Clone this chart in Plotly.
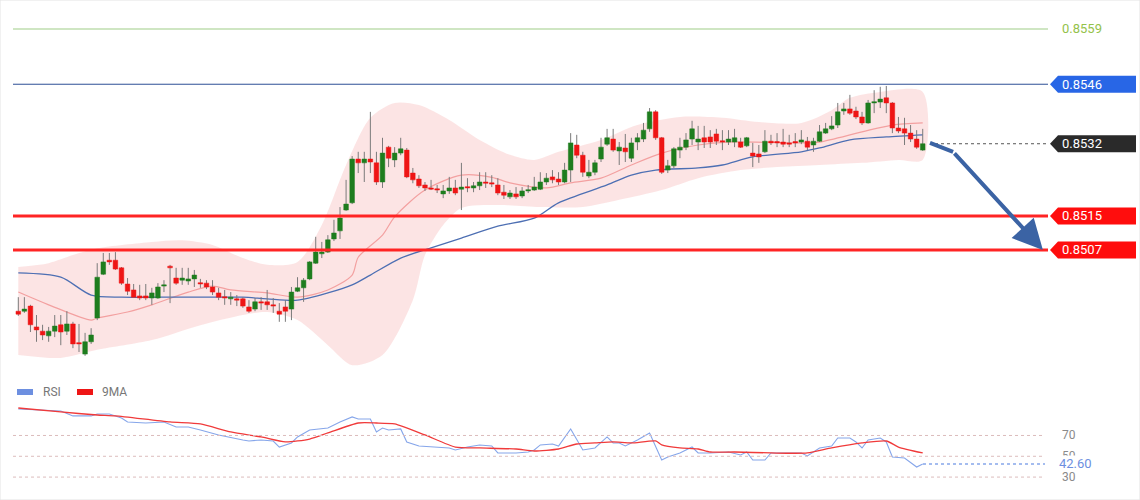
import plotly.graph_objects as go

# ---------------- data ----------------
opens = [0.84926,0.84926,0.84938,0.84889,0.84879,0.84868,0.84879,0.84894,0.84879,0.84896,
0.84851,0.84825,0.84854,0.84910,0.85013,0.85046,0.85046,0.85028,0.84990,0.84976,
0.84962,0.84962,0.84957,0.84957,0.84985,0.85032,0.85004,0.84999,0.84997,0.85002,
0.84992,0.84992,0.84983,0.84969,0.84959,0.84955,0.84955,0.84955,0.84936,0.84931,
0.84948,0.84948,0.84941,0.84926,0.84936,0.84931,0.84973,0.84981,0.85002,0.85039,
0.85061,0.85065,0.85096,0.85115,0.85164,0.85181,0.85284,0.85275,0.85284,0.85275,
0.85230,0.85312,0.85282,0.85298,0.85305,0.85251,0.85237,0.85223,0.85216,0.85213,
0.85202,0.85209,0.85216,0.85213,0.85218,0.85216,0.85221,0.85230,0.85227,0.85223,
0.85206,0.85195,0.85202,0.85197,0.85209,0.85211,0.85213,0.85230,0.85242,0.85237,
0.85230,0.85258,0.85317,0.85293,0.85244,0.85253,0.85284,0.85319,0.85331,0.85303,
0.85310,0.85286,0.85324,0.85331,0.85355,0.85395,0.85334,0.85258,0.85268,0.85305,
0.85312,0.85331,0.85324,0.85334,0.85336,0.85343,0.85326,0.85324,0.85324,0.85324,
0.85315,0.85298,0.85296,0.85301,0.85326,0.85324,0.85324,0.85322,0.85324,0.85324,
0.85326,0.85317,0.85326,0.85345,0.85355,0.85364,0.85397,0.85402,0.85397,0.85383,
0.85369,0.85416,0.85418,0.85428,0.85416,0.85357,0.85355,0.85345,0.85331,0.85305]

highs = [0.84959,0.84959,0.84941,0.84917,0.84894,0.84889,0.84917,0.84917,0.84926,0.84901,
0.84896,0.84875,0.84886,0.85039,0.85063,0.85063,0.85065,0.85030,0.85004,0.84990,
0.84988,0.84990,0.84981,0.84992,0.84999,0.85035,0.85028,0.85028,0.85028,0.85023,
0.85002,0.84999,0.84999,0.84981,0.84976,0.84971,0.84964,0.84959,0.84952,0.84957,
0.84959,0.84976,0.84957,0.84945,0.84952,0.84983,0.85006,0.85004,0.85044,0.85101,
0.85089,0.85105,0.85141,0.85171,0.85235,0.85291,0.85301,0.85301,0.85395,0.85301,
0.85334,0.85315,0.85312,0.85334,0.85310,0.85263,0.85246,0.85230,0.85235,0.85223,
0.85223,0.85242,0.85235,0.85275,0.85239,0.85230,0.85253,0.85253,0.85246,0.85239,
0.85223,0.85211,0.85218,0.85218,0.85223,0.85242,0.85253,0.85251,0.85258,0.85253,
0.85275,0.85345,0.85341,0.85301,0.85282,0.85282,0.85334,0.85355,0.85355,0.85324,
0.85343,0.85334,0.85345,0.85369,0.85404,0.85399,0.85336,0.85282,0.85312,0.85334,
0.85345,0.85374,0.85362,0.85362,0.85352,0.85355,0.85352,0.85352,0.85355,0.85334,
0.85336,0.85322,0.85317,0.85352,0.85341,0.85345,0.85355,0.85341,0.85345,0.85352,
0.85336,0.85334,0.85364,0.85369,0.85385,0.85416,0.85416,0.85435,0.85407,0.85395,
0.85423,0.85446,0.85454,0.85456,0.85418,0.85383,0.85381,0.85364,0.85352,0.85355]

lows = [0.84915,0.84922,0.84877,0.84854,0.84858,0.84854,0.84865,0.84846,0.84870,0.84839,
0.84830,0.84821,0.84849,0.84905,0.85011,0.85035,0.85023,0.84988,0.84964,0.84957,
0.84952,0.84952,0.84941,0.84955,0.84971,0.84945,0.84988,0.84988,0.84988,0.84983,
0.84981,0.84978,0.84964,0.84952,0.84941,0.84941,0.84938,0.84934,0.84922,0.84926,
0.84929,0.84929,0.84922,0.84901,0.84901,0.84905,0.84971,0.84948,0.84999,0.85037,
0.85051,0.85063,0.85091,0.85096,0.85162,0.85178,0.85251,0.85230,0.85251,0.85223,
0.85216,0.85265,0.85265,0.85293,0.85239,0.85227,0.85216,0.85209,0.85211,0.85204,
0.85192,0.85202,0.85199,0.85164,0.85206,0.85206,0.85211,0.85216,0.85218,0.85199,
0.85190,0.85190,0.85190,0.85192,0.85204,0.85209,0.85211,0.85223,0.85227,0.85223,
0.85227,0.85230,0.85286,0.85242,0.85239,0.85246,0.85277,0.85315,0.85301,0.85270,
0.85277,0.85277,0.85305,0.85324,0.85348,0.85329,0.85249,0.85251,0.85263,0.85286,
0.85305,0.85317,0.85305,0.85310,0.85310,0.85317,0.85305,0.85317,0.85312,0.85310,
0.85312,0.85265,0.85275,0.85298,0.85317,0.85312,0.85312,0.85312,0.85312,0.85319,
0.85305,0.85301,0.85324,0.85343,0.85352,0.85357,0.85388,0.85388,0.85378,0.85364,
0.85367,0.85392,0.85404,0.85392,0.85345,0.85345,0.85317,0.85324,0.85308,0.85303]

closes = [0.84919,0.84931,0.84894,0.84882,0.84870,0.84879,0.84891,0.84877,0.84896,0.84849,
0.84849,0.84854,0.84870,0.85006,0.85042,0.85042,0.85025,0.84992,0.84973,0.84959,
0.84957,0.84957,0.84969,0.84983,0.84988,0.85028,0.84992,0.85004,0.85002,0.85011,
0.84990,0.84983,0.84971,0.84959,0.84957,0.84959,0.84952,0.84938,0.84926,0.84948,
0.84945,0.84941,0.84938,0.84919,0.84926,0.84971,0.84981,0.84999,0.85042,0.85065,
0.85065,0.85094,0.85110,0.85145,0.85178,0.85284,0.85275,0.85284,0.85277,0.85230,
0.85298,0.85286,0.85298,0.85308,0.85242,0.85235,0.85221,0.85216,0.85213,0.85211,
0.85209,0.85216,0.85204,0.85218,0.85216,0.85221,0.85230,0.85227,0.85225,0.85204,
0.85199,0.85204,0.85195,0.85209,0.85211,0.85218,0.85230,0.85239,0.85235,0.85230,
0.85258,0.85322,0.85293,0.85253,0.85253,0.85275,0.85312,0.85334,0.85305,0.85312,
0.85301,0.85322,0.85334,0.85352,0.85395,0.85334,0.85253,0.85268,0.85308,0.85312,
0.85329,0.85355,0.85331,0.85324,0.85324,0.85326,0.85324,0.85331,0.85334,0.85312,
0.85334,0.85291,0.85289,0.85326,0.85322,0.85322,0.85319,0.85319,0.85322,0.85329,
0.85312,0.85326,0.85348,0.85355,0.85362,0.85395,0.85402,0.85392,0.85383,0.85369,
0.85416,0.85418,0.85425,0.85416,0.85357,0.85350,0.85345,0.85331,0.85312,0.85320]

# Bollinger envelope (sampled at candle indices)
bb_up_idx = [0,5,9,13,22,27,32,37,41,46,50,54,58,62,66,71,76,81,85,89,96,102,109,116,122,129,134,137,142,149]
bb_upper  = [0.85030,0.85039,0.85058,0.85074,0.85089,0.85093,0.85082,0.85051,0.85035,0.85042,
             0.85129,0.85270,0.85381,0.85416,0.85411,0.85376,0.85329,0.85294,0.85282,0.85301,
             0.85329,0.85364,0.85383,0.85381,0.85371,0.85369,0.85399,0.85428,0.85442,0.85442]
bb_lo_idx = [0,7,13,22,30,37,41,46,51,55,60,65,67,70,73,79,86,93,99,106,112,119,125,132,139,145,149]
bb_lower  = [0.84823,0.84816,0.84835,0.84858,0.84893,0.84917,0.84924,0.84905,0.84846,0.84799,
             0.84823,0.84952,0.85058,0.85129,0.85169,0.85176,0.85171,0.85171,0.85188,0.85211,
             0.85239,0.85258,0.85265,0.85270,0.85275,0.85282,0.85282]

# middle band (20 MA) and long MA
mid_idx = [0,5,12,13,18,22,28,32,35,41,46,51,55,56,60,62,67,73,78,81,87,91,96,101,106,112,117,129,132,139,144,149]
mid_ma  = [0.84971,0.84941,0.84905,0.84910,0.84924,0.84941,0.84971,0.84985,0.84976,0.84969,
           0.84959,0.84976,0.85011,0.85053,0.85105,0.85148,0.85211,0.85246,0.85241,0.85228,
           0.85216,0.85228,0.85239,0.85270,0.85298,0.85317,0.85324,0.85322,0.85324,0.85348,
           0.85364,0.85369]
long_idx = [0,7,12,17,23,30,37,41,46,51,55,58,63,68,73,79,85,89,97,101,105,112,116,121,129,132,137,143,149]
long_ma  = [0.85016,0.85006,0.84964,0.84959,0.84959,0.84959,0.84959,0.84955,0.84952,0.84969,
            0.84988,0.85011,0.85051,0.85075,0.85098,0.85126,0.85145,0.85181,0.85223,0.85246,
            0.85258,0.85263,0.85270,0.85289,0.85301,0.85310,0.85329,0.85336,0.85341]

# RSI and its 9-period MA (sampled at candle indices)
rsi_idx = [0,4,7,9,12,13,15,17,18,21,24,26,28,30,33,37,38,40,42,43,45,46,48,51,53,55,56,58,59,60,
           61,63,64,66,71,72,74,76,78,79,82,84,85,86,88,89,91,93,95,97,98,99,100,102,104,106,107,109,
           111,112,114,117,119,120,121,123,124,127,129,130,132,134,135,137,138,139,140,142,143,144,146,148,149]
rsi_vals = [95.5,94.5,93.6,88.8,88.8,90.7,90.7,86.8,83.0,82.0,83.0,78.2,78.2,75.3,70.5,65.7,64.7,65.7,64.7,58.9,
            62.8,68.6,75.3,77.2,83.0,87.8,85.9,85.9,73.4,77.2,75.3,76.3,63.8,59.9,58.0,56.1,58.9,60.9,59.9,53.2,
            53.2,54.1,56.1,60.9,61.8,59.9,76.3,56.1,58.0,68.6,62.8,62.8,59.9,65.7,72.4,46.4,49.3,53.2,
            58.9,53.2,53.2,54.1,51.3,54.1,46.4,46.4,53.2,53.2,53.2,50.3,58.0,59.9,67.6,67.6,63.8,58.0,65.7,67.6,
            63.8,49.3,48.4,39.7,42.6]
rsi_ma_idx = [0,7,13,16,25,30,35,40,44,48,51,56,59,62,67,72,76,82,85,89,92,95,98,101,105,106,109,112,114,118,
              124,130,134,139,143,145,149]
rsi_ma = [96.4,92.6,89.7,88.8,83.0,81.1,73.4,68.6,63.8,66.6,72.4,82.0,82.0,81.1,70.5,58.9,58.0,57.0,55.1,57.0,
          61.8,62.8,63.8,62.8,64.7,60.9,58.0,57.0,54.1,54.1,53.2,53.2,58.0,62.8,64.7,58.9,53.2]

level_support = [0.8515, 0.8507]
level_resist = 0.8546
level_top = 0.8559
last_price = 0.8532
rsi_levels = [70, 50, 30]
rsi_last = 42.60
target_path_idx = [150.2, 154.0, 168.8]
target_path_val = [0.85322, 0.85301, 0.85070]

# ---------------- styling / geometry ----------------
W, H = 1140, 500
X0_PX, STEP_PX = 18.3, 6.07
xr = [(0 - X0_PX) / STEP_PX, (W - X0_PX) / STEP_PX]
PX_PRICE = 0.000023529   # price per pixel
main_range = [0.856582 - 380 * PX_PRICE, 0.856582]
rsi_range = [7.98, 104.1]

def xp(px):
    return px / W

GREEN = "#1e7d1e"
RED = "#ee1515"
WICK = "#7a7a7a"
BODY_HALF = 0.38
MIN_BODY = 0.00003

fig = go.Figure()

# Bollinger fill
fig.add_trace(go.Scatter(
    x=bb_up_idx + bb_lo_idx[::-1], y=bb_upper + bb_lower[::-1],
    fill="toself", fillcolor="rgba(250,205,205,0.55)", mode="lines",
    line=dict(width=0, shape="spline", smoothing=0.8), hoverinfo="skip",
    xaxis="x", yaxis="y"))
fig.add_trace(go.Scatter(x=mid_idx, y=mid_ma, mode="lines",
    line=dict(color="#f3a0a0", width=1.2, shape="spline", smoothing=0.8), xaxis="x", yaxis="y"))
fig.add_trace(go.Scatter(x=long_idx, y=long_ma, mode="lines",
    line=dict(color="#4d6fb3", width=1.3, shape="spline", smoothing=0.8), xaxis="x", yaxis="y"))

# wicks
wx, wy = [], []
for i in range(len(opens)):
    wx += [i, i, None]
    wy += [lows[i], highs[i], None]
fig.add_trace(go.Scatter(x=wx, y=wy, mode="lines", line=dict(color=WICK, width=1),
                         xaxis="x", yaxis="y", hoverinfo="skip"))

# bodies as filled polygons (scatter layer, so they sit above the band fill)
bodies = {GREEN: ([], []), RED: ([], [])}
for i, (o, c) in enumerate(zip(opens, closes)):
    col = GREEN if c > o else RED
    lo = min(o, c)
    hi = max(max(o, c), lo + MIN_BODY)
    bx, by = bodies[col]
    bx += [i - BODY_HALF, i + BODY_HALF, i + BODY_HALF, i - BODY_HALF, i - BODY_HALF, None]
    by += [lo, lo, hi, hi, lo, None]
for col, (bx, by) in bodies.items():
    fig.add_trace(go.Scatter(x=bx, y=by, mode="lines", fill="toself", fillcolor=col,
                             line=dict(color=col, width=0.5), xaxis="x", yaxis="y", hoverinfo="skip"))

# RSI
fig.add_trace(go.Scatter(x=rsi_idx, y=rsi_vals, mode="lines",
    line=dict(color="#86a6ea", width=1.1), xaxis="x2", yaxis="y2"))
fig.add_trace(go.Scatter(x=rsi_ma_idx, y=rsi_ma, mode="lines",
    line=dict(color="#f03a3a", width=1.3, shape="spline", smoothing=0.6), xaxis="x2", yaxis="y2"))

shapes = []
annotations = []

# frame
shapes.append(dict(type="rect", xref="paper", yref="paper", x0=0, x1=1, y0=0, y1=1,
                   line=dict(color="#e3e3e3", width=1)))

LX0, LX1 = xp(13), xp(1048)
shapes.append(dict(type="line", xref="paper", yref="y", x0=LX0, x1=LX1, y0=level_top, y1=level_top,
                   line=dict(color="#cfe6c3", width=2)))
shapes.append(dict(type="line", xref="paper", yref="y", x0=LX0, x1=LX1, y0=level_resist, y1=level_resist,
                   line=dict(color="#2d4f96", width=1)))
for lv in level_support:
    shapes.append(dict(type="line", xref="paper", yref="y", x0=LX0, x1=LX1, y0=lv, y1=lv,
                       line=dict(color="#ff2424", width=3)))
shapes.append(dict(type="line", xref="paper", yref="y", x0=xp(935), x1=LX1, y0=last_price, y1=last_price,
                   line=dict(color="#555555", width=1, dash="dot")))

# label boxes
half = 8.5 * PX_PRICE
bx0, bx1, bx2 = xp(1050), xp(1058), xp(1136)
def tag(level, color):
    path = (f"M {bx0},{level} L {bx1},{level + half} L {bx2},{level + half} "
            f"L {bx2},{level - half} L {bx1},{level - half} Z")
    shapes.append(dict(type="path", xref="paper", yref="y", path=path,
                       fillcolor=color, line=dict(width=0)))

tag(level_resist, "#2866e6")
tag(last_price, "#2a2a2a")
for lv in level_support:
    tag(lv, "#ff0d0d")

FONT = "Roboto, Arial, sans-serif"
def label(level, text, color, yref="y"):
    annotations.append(dict(x=xp(1060), y=level, xref="paper", yref=yref, text=text,
                            showarrow=False, xanchor="left", yanchor="middle",
                            font=dict(family=FONT, size=13, color=color)))

label(level_top, f"{level_top:.4f}", "#94c24a")
label(level_resist, f"{level_resist:.4f}", "white")
label(last_price, f"{last_price:.4f}", "white")
for lv in level_support:
    label(lv, f"{lv:.4f}", "white")

# blue projection arrow
shapes.append(dict(type="line", xref="x", yref="y",
                   x0=target_path_idx[0], y0=target_path_val[0],
                   x1=target_path_idx[1], y1=target_path_val[1],
                   line=dict(color="#3b63a4", width=4)))
annotations.append(dict(x=target_path_idx[2], y=target_path_val[2], xref="x", yref="y",
                        ax=target_path_idx[1], ay=target_path_val[1], axref="x", ayref="y",
                        text="", showarrow=True, arrowhead=2, arrowsize=1.5, arrowwidth=4,
                        arrowcolor="#3b63a4"))

# RSI guides
for lv in rsi_levels:
    shapes.append(dict(type="line", xref="paper", yref="y2", x0=LX0, x1=xp(1045), y0=lv, y1=lv,
                       line=dict(color="#dcbcbc", width=1, dash="dot")))
shapes.append(dict(type="line", xref="paper", yref="y2", x0=xp(923), x1=xp(1045), y0=rsi_last, y1=rsi_last,
                   line=dict(color="#86a6ea", width=1.5, dash="dot")))
for lv in rsi_levels:
    annotations.append(dict(x=xp(1060), y=lv, xref="paper", yref="y2", text=str(lv), showarrow=False,
                            xanchor="left", yanchor="middle",
                            font=dict(family=FONT, size=12, color="#8a8a8a")))
annotations.append(dict(x=xp(1058), y=rsi_last, xref="paper", yref="y2", text=f"{rsi_last:.2f}",
                        showarrow=False, xanchor="left", yanchor="middle", bgcolor="white",
                        borderpad=0, font=dict(family=FONT, size=13, color="#6d8fe0")))

# RSI legend
LEG_Y = 1 - 392 / H
for x_a, x_b, c, t, tx in [(17, 33, "#6d8fe0", "RSI", 41), (77, 93, "#ee1515", "9MA", 100)]:
    shapes.append(dict(type="rect", xref="paper", yref="paper", x0=xp(x_a), x1=xp(x_b),
                       y0=LEG_Y - 3 / H, y1=LEG_Y + 3 / H, fillcolor=c, line=dict(width=0)))
    annotations.append(dict(x=xp(tx), y=LEG_Y, xref="paper", yref="paper", text=t, showarrow=False,
                            xanchor="left", yanchor="middle",
                            font=dict(family=FONT, size=12, color="#777777")))

fig.update_layout(
    width=W, height=H, margin=dict(l=0, r=0, t=0, b=0),
    paper_bgcolor="white", plot_bgcolor="white", showlegend=False,
    xaxis=dict(domain=[0, 1], range=xr, visible=False, anchor="y"),
    yaxis=dict(domain=[0.24, 1], range=main_range, visible=False, anchor="x"),
    xaxis2=dict(domain=[0, 1], range=xr, visible=False, anchor="y2"),
    yaxis2=dict(domain=[0, 0.2], range=rsi_range, visible=False, anchor="x2"),
    shapes=shapes, annotations=annotations,
)

fig.write_html("out.html", config={"displayModeBar": False})
